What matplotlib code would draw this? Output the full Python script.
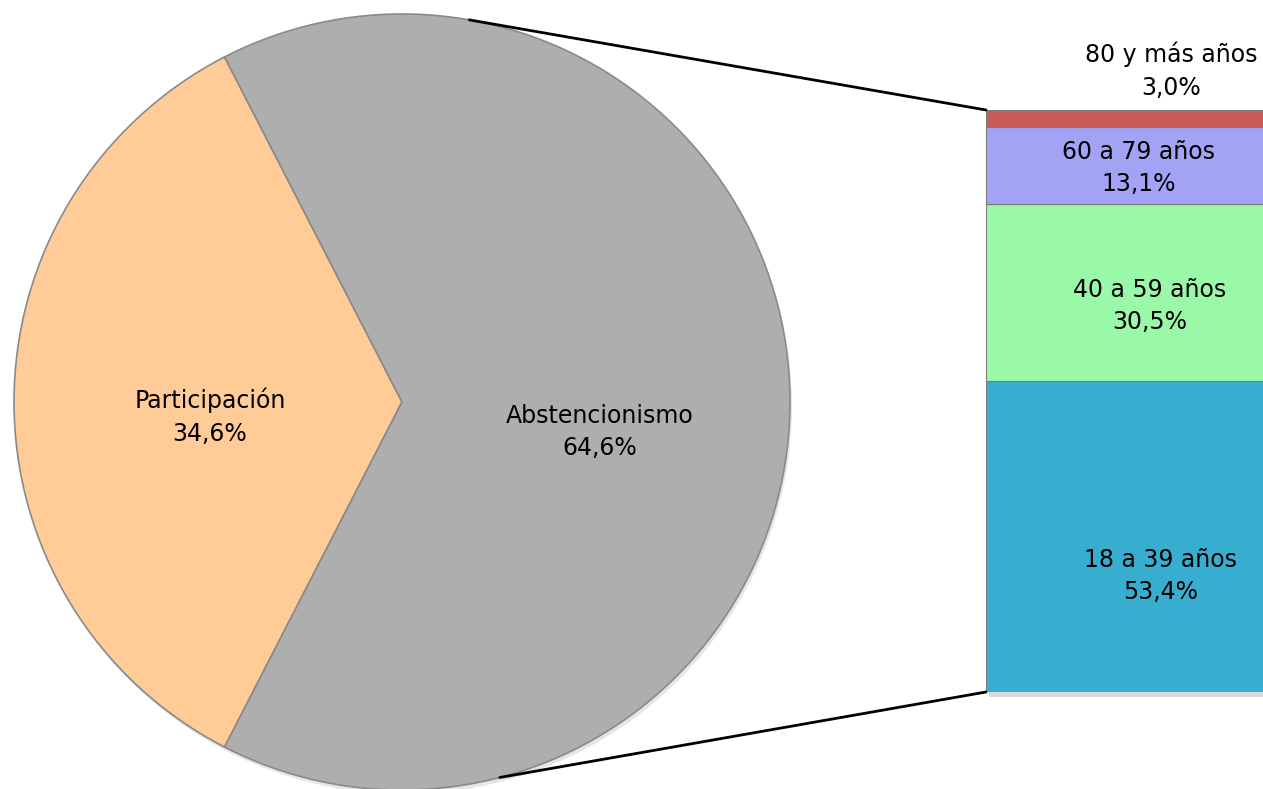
import matplotlib.pyplot as plt
from matplotlib.patches import ConnectionPatch
import numpy as np

# Pie data
pie_labels = ["Participación", "Abstencionismo"]
pie_values = [34.6, 64.6]
pie_colors = ["#FFCB96", "#AEAEAE"]

# Bar (breakdown of participation by age)
age_labels = ["18 a 39 años", "40 a 59 años", "60 a 79 años", "80 y más años"]
age_values = [53.4, 30.5, 13.1, 3.0]
age_colors = ["#37AECF", "#99F9A9", "#A3A3F6", "#C95B5B"]


def fmt(v):
    return f"{v:.1f}%".replace(".", ",")


W, H = 1263, 789
fig = plt.figure(figsize=(W / 100, H / 100), dpi=100)

# -------- Pie --------
ax = fig.add_axes([0, 0, 1, 1])
cx, cy, r = 402, 387, 388
start = 180 - pie_values[0] / sum(pie_values) * 360 / 2

# soft shadow
ax.add_patch(plt.Circle((cx + 2, cy - 4), r, color="#000000", alpha=0.10, lw=0))

wedges, _ = ax.pie(
    pie_values,
    colors=pie_colors,
    startangle=start,
    center=(cx, cy),
    radius=r,
    frame=True,
    wedgeprops=dict(edgecolor="#8a8a8a", linewidth=1.2),
)
ax.set_xlim(0, W)
ax.set_ylim(0, H)
ax.axis("off")

pie_text_pos = [(210, 372), (600, 357)]
for lab, v, (tx, ty) in zip(pie_labels, pie_values, pie_text_pos):
    ax.text(tx, ty, f"{lab}\n{fmt(v)}", ha="center", va="center",
            fontsize=17, linespacing=1.45, color="black")

# -------- Stacked bar --------
bx0, bx1, by_top, by_bot = 986, 1265, 110, 692
bax = fig.add_axes([bx0 / W, (H - by_bot) / H, (bx1 - bx0) / W, (by_bot - by_top) / H])
bax.set_xlim(-0.5, 0.5)
bax.set_ylim(0, sum(age_values))
bax.axis("off")

# shadow for the bar
bax.bar(0.012, sum(age_values), width=1, bottom=-0.9, color="#000000",
        alpha=0.15, clip_on=False, zorder=0)

bottoms = np.concatenate([[0], np.cumsum(age_values)[:-1]])
bax.bar(0, age_values, width=1, bottom=bottoms, color=age_colors,
        edgecolor="#7a7a7a", linewidth=0.8, zorder=1)

bar_text_pos = [(0.127, 19.9), (0.088, 66.3), (0.048, 90.0), (0.163, 106.7)]
for lab, v, (tx, ty) in zip(age_labels, age_values, bar_text_pos):
    bax.text(tx, ty, f"{lab}\n{fmt(v)}", ha="center", va="center",
             fontsize=17, linespacing=1.45, color="black", clip_on=False)

# -------- Connector lines --------
a_top = np.deg2rad(80.0)
a_bot = np.deg2rad(-75.4)
for ang, ybar in [(a_top, sum(age_values)), (a_bot, 0)]:
    con = ConnectionPatch(
        xyA=(cx + r * np.cos(ang), cy + r * np.sin(ang)), coordsA=ax.transData,
        xyB=(-0.5, ybar), coordsB=bax.transData,
        color="black", linewidth=2,
    )
    fig.add_artist(con)

fig.savefig("out.png", dpi=100)
